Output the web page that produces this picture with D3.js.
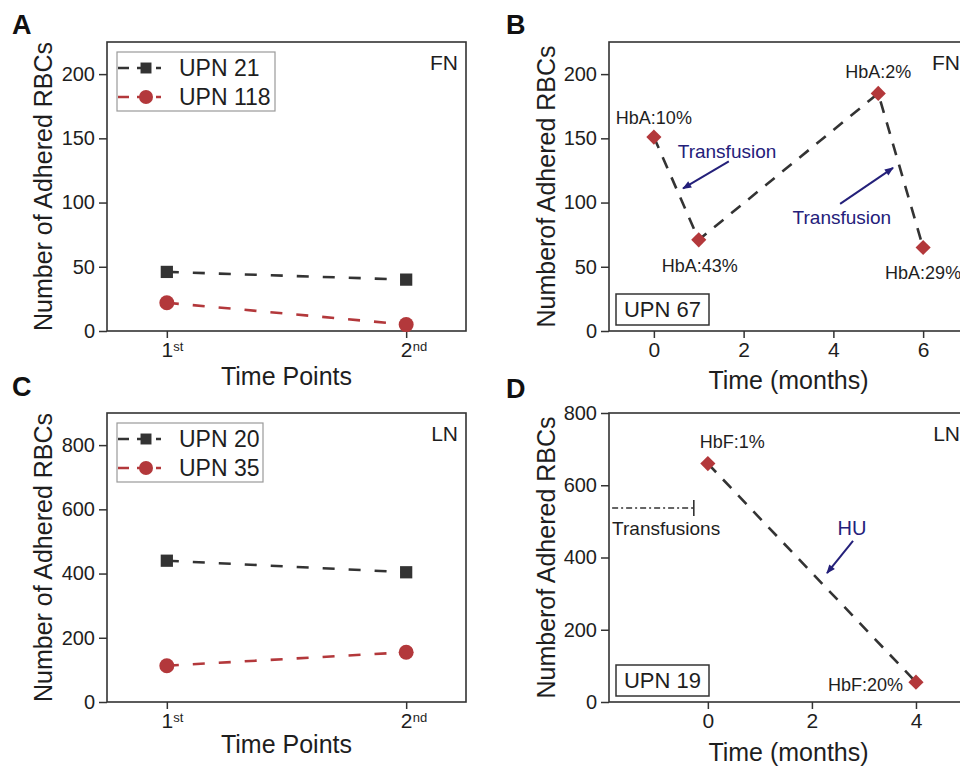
<!DOCTYPE html>
<html>
<head>
<meta charset="utf-8">
<script src="https://cdnjs.cloudflare.com/ajax/libs/d3/7.8.5/d3.min.js"></script>
<style>
  body { margin: 0; background: #fff; }
  svg { display: block; font-family: "Liberation Sans", Arial, sans-serif; }
</style>
</head>
<body>
<script>
// ---- data ----
const timePoints = [1, 2];
const timeNumbers = ["1", "2"];
const timeSuffixes = ["st", "nd"];

// panel A (FN)
const fnPatients = ["UPN 21", "UPN 118"];
const fnUpn21 = [46, 40];
const fnUpn118 = [22, 5];

// panel C (LN)
const lnPatients = ["UPN 20", "UPN 35"];
const lnUpn20 = [440, 404];
const lnUpn35 = [113, 155];

// panel B (UPN 67, FN)
const upn67Months = [0, 1, 5, 6];
const upn67Counts = [151, 71, 185, 65];
const upn67HbA = ["HbA:10%", "HbA:43%", "HbA:2%", "HbA:29%"];
const upn67Notes = ["Transfusion", "Transfusion"];
const upn67NoteAt = [[1.63, 140], [4.19, 89]];
const upn67ArrowFrom = [[1.67, 132], [4.15, 99]];
const upn67ArrowTo = [[0.65, 111], [5.33, 127]];

// panel D (UPN 19, LN)
const upn19Months = [0, 4];
const upn19Counts = [660, 55];
const upn19HbF = ["HbF:1%", "HbF:20%"];
const upn19Note = "HU";
const upn19NoteAt = [2.77, 482];
const upn19ArrowFrom = [2.79, 446];
const upn19ArrowTo = [2.29, 357];
const upn19TransfusionSpan = [-1.84, -0.27];
const upn19TransfusionLevel = 537;

// ticks
const yTicksFN = [0, 50, 100, 150, 200];
const yTicksLN = [0, 200, 400, 600, 800];
const monthTicksB = [0, 2, 4, 6];
const monthTicksD = [0, 2, 4];

// ---- styles ----
const dark = "#333333";
const red = "#b3383b";
const navy = "#24207a";
const textColor = "#1e1e1e";

const svg = d3.select("body").append("svg")
    .attr("width", 960)
    .attr("height", 771);

// arrow head
svg.append("defs").append("marker")
    .attr("id", "head")
    .attr("viewBox", "0 -5 10 10")
    .attr("refX", 9)
    .attr("refY", 0)
    .attr("markerUnits", "userSpaceOnUse")
    .attr("markerWidth", 11)
    .attr("markerHeight", 9)
    .attr("orient", "auto")
    .append("path")
    .attr("d", "M0,-4L10,0L0,4Z")
    .attr("fill", navy);

// builds the frame, axes and titles of one panel
function panel(o) {
    const x = d3.scaleLinear().domain(o.xDomain).range([o.left, o.right]);
    const y = d3.scaleLinear().domain(o.yDomain).range([o.bottom, o.top]);

    const yAxis = svg.append("g")
        .attr("transform", "translate(" + o.left + ",0)")
        .call(d3.axisLeft(y).tickValues(o.yTicks).tickSize(8).tickPadding(4).tickSizeOuter(0));
    yAxis.select(".domain").remove();
    yAxis.attr("font-size", 20).attr("font-family", null).style("color", dark);
    yAxis.selectAll("text").attr("fill", textColor);
    yAxis.selectAll("line").attr("stroke-width", 1.5);

    const xAxis = svg.append("g")
        .attr("transform", "translate(0," + o.bottom + ")")
        .call(d3.axisBottom(x).tickValues(o.xTicks).tickSize(7).tickPadding(4).tickSizeOuter(0)
            .tickFormat(o.xFormat || d3.format("d")));
    xAxis.select(".domain").remove();
    xAxis.attr("font-size", 21).attr("font-family", null).style("color", dark);
    xAxis.selectAll("text").attr("fill", textColor);
    xAxis.selectAll("line").attr("stroke-width", 1.5);

    // superscripts for 1st / 2nd
    if (o.suffixes) {
        xAxis.selectAll(".tick").each(function (d, i) {
            d3.select(this).append("text")
                .attr("x", 6)
                .attr("y", 11)
                .attr("dy", "0.71em")
                .attr("text-anchor", "start")
                .attr("font-size", 13)
                .attr("fill", textColor)
                .text(o.suffixes[i]);
        });
    }

    // frame
    svg.append("rect")
        .attr("x", o.left)
        .attr("y", o.top)
        .attr("width", o.right - o.left)
        .attr("height", o.bottom - o.top)
        .attr("fill", "none")
        .attr("stroke", dark)
        .attr("stroke-width", 1.6);

    // y title
    svg.append("text")
        .attr("transform", "translate(" + o.yTitleX + "," + (o.top + o.bottom) / 2 + ") rotate(-90)")
        .attr("text-anchor", "middle")
        .attr("font-size", 25)
        .attr("fill", textColor)
        .text(o.yTitle);

    // x title
    svg.append("text")
        .attr("x", (o.left + o.right) / 2)
        .attr("y", o.xTitleY)
        .attr("text-anchor", "middle")
        .attr("font-size", 25)
        .attr("fill", textColor)
        .text(o.xTitle);

    // panel letter
    svg.append("text")
        .attr("x", o.letterX)
        .attr("y", o.letterY)
        .attr("font-size", 27)
        .attr("font-weight", "bold")
        .attr("fill", "#111")
        .text(o.letter);

    // substrate tag (FN / LN)
    svg.append("text")
        .attr("x", o.right - 8)
        .attr("y", o.top + 28)
        .attr("text-anchor", "end")
        .attr("font-size", 21)
        .attr("fill", textColor)
        .text(o.tag);

    return { x, y };
}

// two-patient panels (A, C)
function pairPanel(o, names, series) {
    const p = panel(o);
    const colors = [dark, red];
    const line = d3.line().x((d, i) => p.x(timePoints[i])).y(d => p.y(d));

    series.forEach((vals, k) => {
        svg.append("path")
            .attr("d", line(vals))
            .attr("fill", "none")
            .attr("stroke", colors[k])
            .attr("stroke-width", 2.6)
            .attr("stroke-dasharray", "12,14");
        vals.forEach((v, i) => {
            if (k === 0) {
                svg.append("path")
                    .attr("d", d3.symbol(d3.symbolSquare, 150)())
                    .attr("transform", "translate(" + p.x(timePoints[i]) + "," + p.y(v) + ")")
                    .attr("fill", colors[k]);
            } else {
                svg.append("circle")
                    .attr("cx", p.x(timePoints[i]))
                    .attr("cy", p.y(v))
                    .attr("r", 7.5)
                    .attr("fill", colors[k]);
            }
        });
    });

    // legend
    const lx = o.left + 10, ly = o.top + 10;
    svg.append("rect")
        .attr("x", lx)
        .attr("y", ly)
        .attr("width", o.legendWidth)
        .attr("height", 59)
        .attr("fill", "#fff")
        .attr("stroke", "#9a9a9a")
        .attr("stroke-width", 1.2);

    names.forEach((name, k) => {
        const cy = ly + 16 + k * 29;
        svg.append("line")
            .attr("x1", lx + 1).attr("x2", lx + 44)
            .attr("y1", cy).attr("y2", cy)
            .attr("stroke", colors[k])
            .attr("stroke-width", 2.6)
            .attr("stroke-dasharray", "11,8");
        if (k === 0) {
            svg.append("path")
                .attr("d", d3.symbol(d3.symbolSquare, 120)())
                .attr("transform", "translate(" + (lx + 29) + "," + cy + ")")
                .attr("fill", colors[k]);
        } else {
            svg.append("circle")
                .attr("cx", lx + 29).attr("cy", cy).attr("r", 7)
                .attr("fill", colors[k]);
        }
        svg.append("text")
            .attr("x", lx + 62)
            .attr("y", cy)
            .attr("dy", "0.36em")
            .attr("font-size", 23)
            .attr("fill", textColor)
            .text(name);
    });
}

// single-patient panels (B, D)
function patientBox(label, o) {
    svg.append("rect")
        .attr("x", o.left + 7)
        .attr("y", o.bottom - 37)
        .attr("width", 93)
        .attr("height", 31)
        .attr("fill", "#fff")
        .attr("stroke", dark)
        .attr("stroke-width", 1.5);
    svg.append("text")
        .attr("x", o.left + 53.5)
        .attr("y", o.bottom - 21.5)
        .attr("dy", "0.36em")
        .attr("text-anchor", "middle")
        .attr("font-size", 22)
        .attr("fill", textColor)
        .text(label);
}

function diamonds(p, xs, ys) {
    const line = d3.line().x((d, i) => p.x(xs[i])).y(d => p.y(d));
    svg.append("path")
        .attr("d", line(ys))
        .attr("fill", "none")
        .attr("stroke", dark)
        .attr("stroke-width", 2.6)
        .attr("stroke-dasharray", "12,10");
    ys.forEach((v, i) => {
        svg.append("path")
            .attr("d", d3.symbol(d3.symbolSquare, 115)())
            .attr("transform", "translate(" + p.x(xs[i]) + "," + p.y(v) + ") rotate(45)")
            .attr("fill", red);
    });
}

function arrow(p, from, to) {
    svg.append("line")
        .attr("x1", p.x(from[0])).attr("y1", p.y(from[1]))
        .attr("x2", p.x(to[0])).attr("y2", p.y(to[1]))
        .attr("stroke", navy)
        .attr("stroke-width", 2)
        .attr("marker-end", "url(#head)");
}

// ---- Panel A ----
const optA = {
    left: 107, right: 466, top: 42, bottom: 331,
    xDomain: [0.75, 2.25], yDomain: [0, 225],
    xTicks: timePoints, yTicks: yTicksFN,
    xFormat: (d, i) => timeNumbers[i], suffixes: timeSuffixes,
    yTitle: "Number of Adhered RBCs", yTitleX: 52,
    xTitle: "Time Points", xTitleY: 385,
    letter: "A", letterX: 12, letterY: 34, tag: "FN", legendWidth: 158
};
pairPanel(optA, fnPatients, [fnUpn21, fnUpn118]);

// ---- Panel C ----
const optC = {
    left: 107, right: 466, top: 413, bottom: 702,
    xDomain: [0.75, 2.25], yDomain: [0, 900],
    xTicks: timePoints, yTicks: yTicksLN,
    xFormat: (d, i) => timeNumbers[i], suffixes: timeSuffixes,
    yTitle: "Number of Adhered RBCs", yTitleX: 52,
    xTitle: "Time Points", xTitleY: 753,
    letter: "C", letterX: 12, letterY: 396, tag: "LN", legendWidth: 146
};
pairPanel(optC, lnPatients, [lnUpn20, lnUpn35]);

// ---- Panel B ----
const optB = {
    left: 609, right: 968, top: 42, bottom: 331,
    xDomain: [-1, 7], yDomain: [0, 225],
    xTicks: monthTicksB, yTicks: yTicksFN,
    yTitle: "Numberof Adhered RBCs", yTitleX: 555,
    xTitle: "Time (months)", xTitleY: 389,
    letter: "B", letterX: 506, letterY: 34, tag: "FN"
};
const pB = panel(optB);
diamonds(pB, upn67Months, upn67Counts);
const hbaOffsets = [-20, 26, -22, 25];
upn67HbA.forEach((t, i) => {
    svg.append("text")
        .attr("x", pB.x(upn67Months[i]) + (i === 1 ? 1 : 0))
        .attr("y", pB.y(upn67Counts[i]) + hbaOffsets[i])
        .attr("dy", "0.36em")
        .attr("text-anchor", "middle")
        .attr("font-size", 18)
        .attr("fill", textColor)
        .text(t);
});
upn67Notes.forEach((t, i) => {
    arrow(pB, upn67ArrowFrom[i], upn67ArrowTo[i]);
    svg.append("text")
        .attr("x", pB.x(upn67NoteAt[i][0]))
        .attr("y", pB.y(upn67NoteAt[i][1]))
        .attr("dy", "0.36em")
        .attr("text-anchor", "middle")
        .attr("font-size", 19)
        .attr("fill", navy)
        .text(t);
});
patientBox("UPN 67", optB);

// ---- Panel D ----
const optD = {
    left: 609, right: 968, top: 413, bottom: 702,
    xDomain: [-1.9, 5], yDomain: [0, 800],
    xTicks: monthTicksD, yTicks: yTicksLN,
    yTitle: "Numberof Adhered RBCs", yTitleX: 555,
    xTitle: "Time (months)", xTitleY: 761,
    letter: "D", letterX: 506, letterY: 398, tag: "LN"
};
const pD = panel(optD);
diamonds(pD, upn19Months, upn19Counts);

svg.append("text")
    .attr("x", pD.x(upn19Months[0]) - 8)
    .attr("y", pD.y(upn19Counts[0]) - 22)
    .attr("dy", "0.36em")
    .attr("font-size", 18)
    .attr("fill", textColor)
    .text(upn19HbF[0]);
svg.append("text")
    .attr("x", pD.x(upn19Months[1]) - 13)
    .attr("y", pD.y(upn19Counts[1]) + 2)
    .attr("dy", "0.36em")
    .attr("text-anchor", "end")
    .attr("font-size", 18)
    .attr("fill", textColor)
    .text(upn19HbF[1]);

arrow(pD, upn19ArrowFrom, upn19ArrowTo);
svg.append("text")
    .attr("x", pD.x(upn19NoteAt[0]))
    .attr("y", pD.y(upn19NoteAt[1]))
    .attr("dy", "0.36em")
    .attr("text-anchor", "middle")
    .attr("font-size", 20)
    .attr("fill", navy)
    .text(upn19Note);

// transfusion period (dash-dot with end cap)
const ty = pD.y(upn19TransfusionLevel);
svg.append("line")
    .attr("x1", pD.x(upn19TransfusionSpan[0])).attr("x2", pD.x(upn19TransfusionSpan[1]))
    .attr("y1", ty).attr("y2", ty)
    .attr("stroke", dark)
    .attr("stroke-width", 1.6)
    .attr("stroke-dasharray", "6,3,2,3");
svg.append("line")
    .attr("x1", pD.x(upn19TransfusionSpan[1])).attr("x2", pD.x(upn19TransfusionSpan[1]))
    .attr("y1", ty - 8).attr("y2", ty + 8)
    .attr("stroke", dark)
    .attr("stroke-width", 1.6);
svg.append("text")
    .attr("x", pD.x(upn19TransfusionSpan[0]))
    .attr("y", ty + 20)
    .attr("dy", "0.36em")
    .attr("font-size", 19)
    .attr("fill", textColor)
    .text("Transfusions");
patientBox("UPN 19", optD);
</script>
</body>
</html>
